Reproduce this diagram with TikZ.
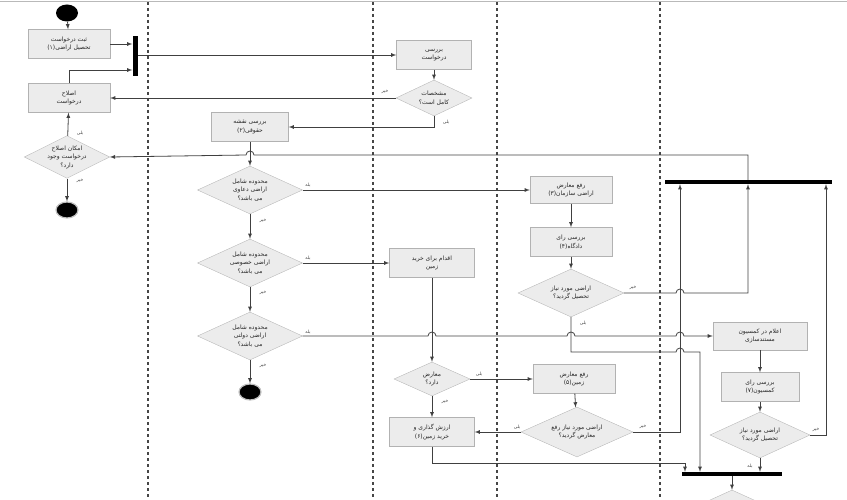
\documentclass[tikz,border=0pt]{standalone}
\usepackage{fontspec}
\newfontfamily\farsi[Script=Arabic]{DejaVu Sans}
\TeXXeTstate=1
\usepackage{tikz}
\usetikzlibrary{shapes.geometric,arrows,calc}
\newcommand{\rl}[1]{\beginR #1\endR}
\tikzset{
	box/.style={
		draw=gray!60, rectangle, fill=gray!15,
		minimum width=82pt, minimum height=29pt,
		inner sep=2pt, align=center, text=black!85,
		font=\farsi\fontsize{6}{8.5}\selectfont
	},
	decision/.style={
		draw=gray!55, diamond, fill=gray!15, aspect=2.2,
		inner sep=0pt, align=center, text=black!85,
		font=\farsi\fontsize{6}{8.5}\selectfont
	},
	startnode/.style={ellipse, fill=black, minimum width=22pt, minimum height=17pt, inner sep=0pt},
	endnode/.style={ellipse, fill=black, draw=gray!50, line width=1.2pt, minimum width=22pt, minimum height=16pt, inner sep=0pt},
	bar/.style={fill=black, inner sep=0pt},
	flow/.style={->, >=latex, draw=gray!50!black, line width=0.8pt},
	answer/.style={font=\farsi\fontsize{4.5}{5}\selectfont, text=gray!50!black, inner sep=0pt},
	lane/.style={dashed, draw=gray!55!black, line width=1.2pt}
}

\begin{document}
\begin{tikzpicture}[x=1pt, y=-1pt]
	\useasboundingbox (0,0) rectangle (847,500);
	% swimlanes
	\draw[gray!55, line width=1pt] (0,2) -- (847,2);
	\foreach \lx in {148,373,497,660}
		\draw[lane] (\lx,2) -- (\lx,500);

	% first lane
	\node[startnode] (start) at (67,13) {};
	\node[box] (apply) at (69,44) {\rl{ثبت درخواست}\\\rl{تحصیل اراضی(۱)}};
	\node[bar, minimum width=5pt, minimum height=40pt] (fork) at (135,56) {};
	\node[box] (fix) at (69,98) {\rl{اصلاح}\\\rl{درخواست}};
	\node[decision, aspect=2, minimum width=82pt, minimum height=42pt] (retry) at (67,157) {\rl{امکان اصلاح}\\\rl{درخواست وجود}\\\rl{دارد؟}};
	\node[endnode] (stop1) at (67,210) {};

	% second lane
	\node[box, minimum width=77pt] (legal) at (250,127) {\rl{بررسی نقشه}\\\rl{حقوقی(۲)}};
	\node[decision, minimum width=105pt, minimum height=48pt] (claims) at (250,190) {\rl{محدوده شامل}\\\rl{اراضی دعاوی}\\\rl{می باشد؟}};
	\node[decision, minimum width=105pt, minimum height=48pt] (private) at (250,263) {\rl{محدوده شامل}\\\rl{اراضی خصوصی}\\\rl{می باشد؟}};
	\node[decision, minimum width=105pt, minimum height=48pt] (state) at (250,336) {\rl{محدوده شامل}\\\rl{اراضی دولتی}\\\rl{می باشد؟}};
	\node[endnode] (stop2) at (250,392) {};

	% third lane
	\node[box, minimum width=75pt] (check) at (434,55) {\rl{بررسی}\\\rl{درخواست}};
	\node[decision, minimum width=76pt, minimum height=36pt] (complete) at (434,98) {\rl{مشخصات}\\\rl{کامل است؟}};
	\node[box, minimum width=85pt] (buy) at (432,263) {\rl{اقدام برای خرید}\\\rl{زمین}};
	\node[decision, minimum width=76pt, minimum height=34pt] (dispute) at (432,379) {\rl{معارض}\\\rl{دارد؟}};
	\node[box, minimum width=85pt] (value) at (432,432) {\rl{ارزش گذاری و}\\\rl{خرید زمین(۶)}};

	% fourth lane
	\node[box, minimum height=27pt] (orgfix) at (571,190) {\rl{رفع معارض}\\\rl{اراضی سازمان(۳)}};
	\node[box] (court) at (571,242) {\rl{بررسی رای}\\\rl{دادگاه(۴)}};
	\node[decision, minimum width=106pt, minimum height=48pt] (granted1) at (571,293) {\rl{اراضی مورد نیاز}\\\rl{تحصیل گردید؟}};
	\node[box] (landfix) at (574,379) {\rl{رفع معارض}\\\rl{زمین(۵)}};
	\node[decision, minimum width=112pt, minimum height=50pt] (cleared) at (577,432) {\rl{اراضی مورد نیاز رفع}\\\rl{معارض گردید؟}};

	% fifth lane
	\node[bar, minimum width=167pt, minimum height=4pt] (join1) at (748,182) {};
	\node[box, minimum width=94pt, minimum height=28pt] (commission) at (760,336) {\rl{اعلام در کمسیون}\\\rl{مستندسازی}};
	\node[box, minimum width=78pt] (vote) at (760,387) {\rl{بررسی رای}\\\rl{کمسیون(۷)}};
	\node[decision, minimum width=100pt, minimum height=46pt] (granted2) at (760,435) {\rl{اراضی مورد نیاز}\\\rl{تحصیل گردید؟}};
	\node[bar, minimum width=100pt, minimum height=4pt] (join2) at (732,474) {};
	\node[decision, minimum width=110pt, minimum height=50pt] (final) at (732,515) {};

	% connectors
	\draw[flow] (start) -- (apply);
	\draw[flow] (apply) -- (apply -| fork.west);
	\draw[flow] (fix.north) |- (fork.west |- 0,70);
	\draw[flow] (fork.east |- check) -- (check);
	\draw[flow] (check) -- (complete);
	\draw[flow] (complete) -- (complete -| fix.east);
	\draw[flow] (complete.south) |- (legal.east);
	\draw[flow] (retry) -- (fix);
	\draw[flow] (retry) -- (stop1);
	\draw[flow] (legal) -- (claims);
	\draw[flow] (claims) -- (orgfix);
	\draw[flow] (claims) -- (private);
	\draw[flow] (private) -- (buy);
	\draw[flow] (private) -- (state);
	\draw[flow] (state.east) -- (428,336) arc (180:360:4) -- (567,336) arc (180:360:4)
		-- (676,336) arc (180:360:4) -- (commission.west);
	\draw[flow] (state) -- (stop2);
	\draw[flow] (buy) -- (dispute);
	\draw[flow] (dispute) -- (landfix);
	\draw[flow] (dispute) -- (value);
	\draw[flow] (value.south) -- (432,463) -- (685,463) -- (join2.north -| 685,0);
	\draw[flow] (orgfix) -- (court);
	\draw[flow] (court) -- (granted1);
	\draw[flow] (granted1.east) -- (676,293) arc (180:360:4) -- (748,293) -- (join1.south);
	\draw[flow] (granted1.south) -- (571,352) -- (676,352) arc (180:360:4) -- (700,352)
		-- (join2.north -| 700,0);
	\draw[flow] (landfix) -- (cleared);
	\draw[flow] (cleared) -- (value);
	\draw[flow] (cleared.east) -- (680,432) -- (join1.south -| 680,0);
	\draw[flow] (commission) -- (vote);
	\draw[flow] (vote) -- (granted2);
	\draw[flow] (granted2) -- (join2.north -| granted2);
	\draw[flow] (granted2.east) -- (826,435) -- (join1.south -| 826,0);
	\draw[flow] (join1.north) -- (748,155) -- (254,155) arc (0:-180:4) -- (retry.east);
	\draw[flow] (join2.south -| final) -- (final.north);

	% answers
	\node[answer] (a1) at (80,133) {\rl{بلی}};
	\node[answer] (a2) at (80,181) {\rl{خیر}};
	\node[answer] (a3) at (385,92) {\rl{خیر}};
	\node[answer] (a4) at (446,122) {\rl{بلی}};
	\node[answer] (a5) at (308,185) {\rl{بله}};
	\node[answer] (a6) at (263,221) {\rl{خیر}};
	\node[answer] (a7) at (308,258) {\rl{بله}};
	\node[answer] (a8) at (263,293) {\rl{خیر}};
	\node[answer] (a9) at (308,332) {\rl{بله}};
	\node[answer] (a10) at (263,366) {\rl{خیر}};
	\node[answer] (a11) at (479,374) {\rl{بلی}};
	\node[answer] (a12) at (445,402) {\rl{خیر}};
	\node[answer] (a13) at (633,288) {\rl{خیر}};
	\node[answer] (a14) at (583,323) {\rl{بلی}};
	\node[answer] (a15) at (517,427) {\rl{بلی}};
	\node[answer] (a16) at (643,427) {\rl{خیر}};
	\node[answer] (a17) at (816,430) {\rl{خیر}};
	\node[answer] (a18) at (750,466) {\rl{بله}};
\end{tikzpicture}
\end{document}
